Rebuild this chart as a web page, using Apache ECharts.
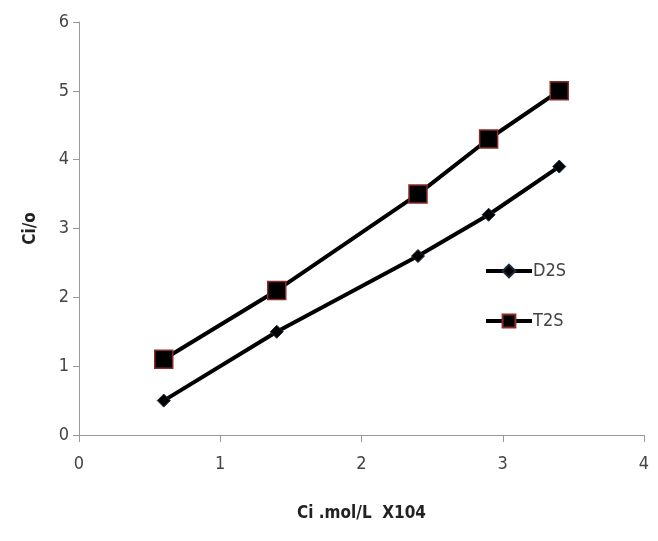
<!DOCTYPE html>
<html><head><meta charset="utf-8">
<script src="https://cdn.jsdelivr.net/npm/echarts@6/dist/echarts.min.js"></script>
<style>html,body{margin:0;padding:0;background:#fff}#c{width:658px;height:541px}</style>
</head><body><div id="c"></div>
<script>
const xValues = [0.6, 1.4, 2.4, 2.9, 3.4];
const d2s = [0.5, 1.5, 2.6, 3.2, 3.9];
const t2s = [1.1, 2.1, 3.5, 4.3, 5.0];
const seriesNames = ['D2S', 'T2S'];
const xTitle = 'Ci .mol/L  X104';
const yTitle = 'Ci/o';

const font = "'Liberation Sans Narrow', 'DejaVu Sans Condensed', sans-serif";
const chart = echarts.init(document.getElementById('c'));
const pair = (ys) => xValues.map((x, i) => [x, ys[i]]);
chart.setOption({
  animation: false,
  backgroundColor: '#fff',
  grid: { left: 79, right: 14, top: 22, bottom: 106, containLabel: false },
  legend: {
    orient: 'vertical', left: 479, top: 257, itemGap: 32,
    itemWidth: 46, itemHeight: 16,
    lineStyle: { width: 4, color: '#000' },
    textStyle: { fontFamily: font, fontSize: 18, color: '#444', padding: [0, 0, 0, -4] },
    data: seriesNames
  },
  xAxis: {
    type: 'value', min: 0, max: 4, interval: 1,
    name: xTitle, nameLocation: 'middle', nameGap: 70,
    nameTextStyle: { fontFamily: font, fontSize: 17, fontWeight: 'bold', color: '#222' },
    axisLine: { show: true, lineStyle: { color: '#999', width: 1 } },
    axisTick: { show: true, length: 7, lineStyle: { color: '#999' } },
    axisLabel: { fontFamily: font, fontSize: 18, color: '#444', margin: 20 },
    splitLine: { show: false }
  },
  yAxis: {
    type: 'value', min: 0, max: 6, interval: 1,
    name: yTitle, nameLocation: 'middle', nameGap: 40, nameRotate: 90,
    nameTextStyle: { fontFamily: font, fontSize: 17, fontWeight: 'bold', color: '#222' },
    axisLine: { show: true, lineStyle: { color: '#999', width: 1 } },
    axisTick: { show: true, length: 6, lineStyle: { color: '#999' } },
    axisLabel: { fontFamily: font, fontSize: 18, color: '#444', margin: 10 },
    splitLine: { show: false }
  },
  series: [
    {
      name: seriesNames[0], type: 'line', data: pair(d2s),
      symbol: 'diamond', symbolSize: 13,
      lineStyle: { color: '#000', width: 4 },
      itemStyle: { color: '#000', borderColor: '#1a2a40', borderWidth: 1 }
    },
    {
      name: seriesNames[1], type: 'line', data: pair(t2s),
      symbol: 'rect', symbolSize: 18,
      lineStyle: { color: '#000', width: 4 },
      itemStyle: { color: '#000', borderColor: '#8b2a2a', borderWidth: 1.5 }
    }
  ]
});
</script></body></html>
